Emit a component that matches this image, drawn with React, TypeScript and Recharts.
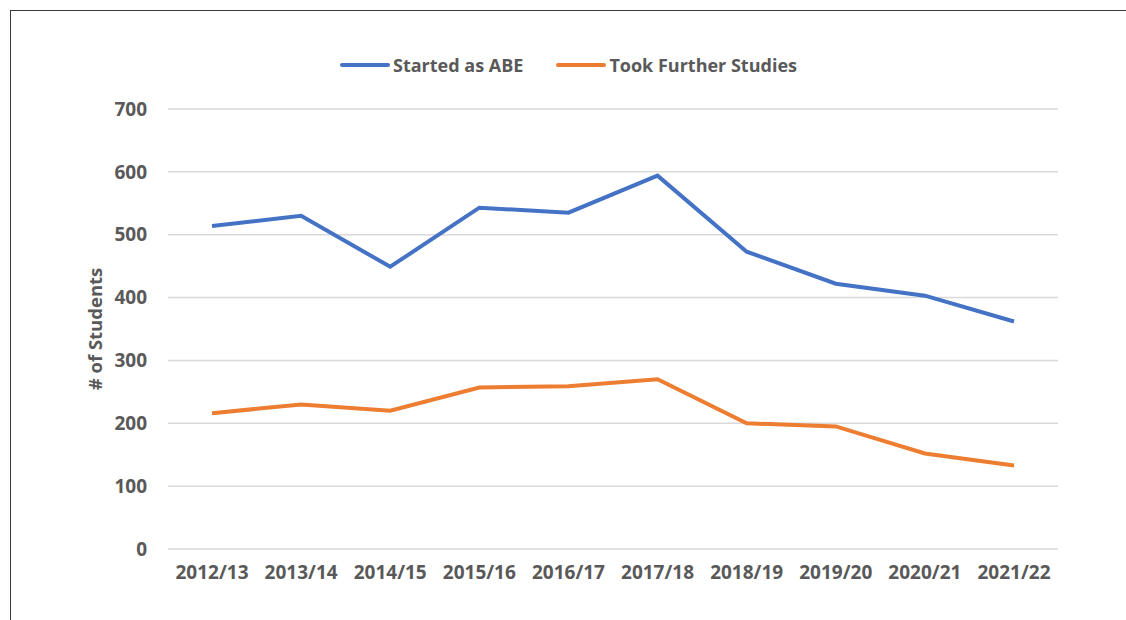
import { LineChart, Line, XAxis, YAxis, CartesianGrid, Label } from "recharts"

const years = [
  "2012/13", "2013/14", "2014/15", "2015/16", "2016/17",
  "2017/18", "2018/19", "2019/20", "2020/21", "2021/22",
]
const startedAsAbe = [514, 530, 449, 543, 535, 594, 473, 422, 403, 362]
const tookFurther = [216, 230, 220, 257, 259, 270, 200, 195, 152, 133]
const yTicks = [0, 100, 200, 300, 400, 500, 600, 700]

const series = [
  { key: "abe", name: "Started as ABE", color: "#4472C4" },
  { key: "further", name: "Took Further Studies", color: "#ED7D31" },
]

const chartData = years.map((year, i) => ({
  year,
  abe: startedAsAbe[i],
  further: tookFurther[i],
}))

const font = "'Open Sans', sans-serif"
const textColor = "#595959"

function LegendRow() {
  return (
    <div
      style={{
        position: "absolute",
        left: 10,
        width: 1116,
        top: 53,
        display: "flex",
        justifyContent: "center",
        gap: 32,
        fontFamily: font,
        fontWeight: 700,
        fontSize: 18,
        lineHeight: "24px",
        color: textColor,
      }}
    >
      {series.map((s) => (
        <div key={s.key} style={{ display: "flex", alignItems: "center" }}>
          <svg width={52} height={8} style={{ marginRight: 2 }}>
            <line x1={3} y1={4} x2={49} y2={4} stroke={s.color} strokeWidth={4} strokeLinecap="round" />
          </svg>
          <span>{s.name}</span>
        </div>
      ))}
    </div>
  )
}

export default function App() {
  return (
    <div style={{ position: "fixed", left: 0, top: 0, width: 1126, height: 620, background: "#fff" }}>
      <div
        style={{
          position: "absolute",
          left: 10,
          top: 10,
          right: 0,
          bottom: 0,
          borderTop: "1.5px solid #3a3a3a",
          borderLeft: "1.5px solid #3a3a3a",
        }}
      />
      <LegendRow />
      <LineChart width={1126} height={620} data={chartData} margin={{ top: 109, right: 68, left: 0, bottom: 0 }}>
        <CartesianGrid vertical={false} stroke="#d9d9d9" strokeWidth={1.5} />
        <XAxis
          dataKey="year"
          padding={{ left: 44, right: 44 }}
          height={71}
          axisLine={false}
          tickLine={false}
          tickSize={0}
          tickMargin={17}
          interval={0}
          tick={{ fill: textColor, fontSize: 19, fontWeight: 700, fontFamily: font }}
        />
        <YAxis
          width={168}
          domain={[0, 700]}
          ticks={yTicks}
          axisLine={false}
          tickLine={false}
          tickSize={0}
          tickMargin={21}
          tick={{ fill: textColor, fontSize: 19, fontWeight: 700, fontFamily: font }}
        >
          <Label
            content={({ viewBox }: any) => (
              <text
                x={viewBox.x + 94}
                y={viewBox.y + viewBox.height / 2}
                transform={`rotate(-90 ${viewBox.x + 94} ${viewBox.y + viewBox.height / 2})`}
                textAnchor="middle"
                dominantBaseline="central"
                fill={textColor}
                fontSize={18.5}
                fontWeight={700}
                fontFamily={font}
              >
                # of Students
              </text>
            )}
          />
        </YAxis>
        {series.map((s) => (
          <Line
            key={s.key}
            type="linear"
            dataKey={s.key}
            name={s.name}
            stroke={s.color}
            strokeWidth={4}
            dot={false}
            activeDot={false}
            isAnimationActive={false}
          />
        ))}
      </LineChart>
    </div>
  )
}
